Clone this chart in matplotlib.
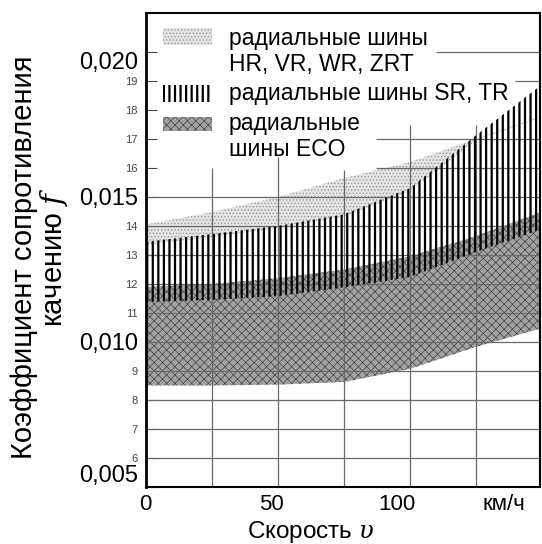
import matplotlib
matplotlib.use('Agg')
import matplotlib.pyplot as plt
from matplotlib.patches import Rectangle
from matplotlib.transforms import ScaledTranslation

plt.rcParams['font.family'] = ['Liberation Sans', 'DejaVu Sans']
plt.rcParams['mathtext.fontset'] = 'dejavuserif'

# ---------------- data ----------------
speed = [0, 25, 50, 75, 100, 125, 149]
eco_low = [0.00850, 0.00850, 0.00853, 0.00862, 0.00907, 0.00983, 0.01045]
eco_high = [0.01190, 0.01200, 0.01220, 0.01250, 0.01295, 0.01365, 0.01445]
sr_low = [0.01138, 0.01145, 0.01158, 0.01188, 0.01224, 0.01310, 0.01386]
sr_high = [0.01345, 0.01372, 0.01400, 0.01440, 0.01530, 0.01712, 0.01880]
hr_low = [0.01335, 0.01362, 0.01392, 0.01432, 0.01520, 0.01695, 0.01772]
hr_high = [0.01405, 0.01448, 0.01500, 0.01565, 0.01620, 0.01700, 0.01775]

legend_labels = ['радиальные шины\nHR, VR, WR, ZRT',
                 'радиальные шины SR, TR',
                 'радиальные\nшины ECO']

x_ticks = [0, 50, 100, 141.5]
x_tick_labels = ['0', '50', '100', 'км/ч']
y_major = [0.005, 0.010, 0.015, 0.020]
y_major_labels = ['0,005', '0,010', '0,015', '0,020']
y_minor = [0.006, 0.007, 0.008, 0.009, 0.011, 0.012, 0.013, 0.014,
           0.016, 0.017, 0.018, 0.019]
y_minor_labels = ['6', '7', '8', '9', '11', '12', '13', '14',
                  '16', '17', '18', '19']
x_label = 'Скорость $\\upsilon$'
y_label = 'Коэффициент сопротивления\nкачению $f$'

# ---------------- figure ----------------
W, H = 542, 544
fig = plt.figure(figsize=(W / 100, H / 100), dpi=100)
AX_L, AX_R, AX_T, AX_B = 146, 540, 13, 487
ax = fig.add_axes([AX_L / W, 1 - AX_B / H, (AX_R - AX_L) / W, (AX_B - AX_T) / H])
ax.set_xlim(0, 149.3)
ax.set_ylim(0.005, 0.02134)


def pax(px, py):
    """pixel -> axes fraction"""
    return (px - AX_L) / (AX_R - AX_L), (AX_B - py) / (AX_B - AX_T)


# style of the three bands
styles = [
    dict(facecolor='#e4e4e4', hatch='.....', edgecolor='#9a9a9a', lw=0, hlw=0.6),
    dict(facecolor='none', hatch='|||', edgecolor='black', lw=0, hlw=1.6),
    dict(facecolor='#a2a2a2', hatch='xxxx', edgecolor='#444444', lw=0, hlw=0.5),
]


def styled(artist, st):
    artist.set_facecolor(st['facecolor'])
    artist.set_hatch(st['hatch'])
    artist.set_edgecolor(st['edgecolor'])
    artist.set_linewidth(st['lw'])
    try:
        artist.set_hatch_linewidth(st['hlw'])
    except Exception:
        pass


# grid (partially hidden behind the legend area)
grid_kw = dict(color='#6a6a6a', lw=0.9, zorder=2.5)
for y in [0.006, 0.007, 0.008, 0.009, 0.010, 0.011, 0.012, 0.013, 0.014, 0.015]:
    ax.axhline(y, **grid_kw)
for y, x0 in [(0.016, 87), (0.017, 87), (0.019, 140), (0.020, 110)]:
    ax.hlines(y, x0, 149.3, **grid_kw)
for x, y1 in [(25, 0.0160), (50, 0.01638), (75, 0.01593), (100, 0.01748), (125, 0.01748)]:
    ax.vlines(x, 0.005, y1, **grid_kw)

# bands
plt.rcParams['hatch.linewidth'] = 0.5
eco = ax.fill_between(speed, eco_low, eco_high, zorder=2)
styled(eco, styles[2])
hr = ax.fill_between(speed, hr_low, hr_high, zorder=2)
styled(hr, styles[0])
plt.rcParams['hatch.linewidth'] = 1.6
sr = ax.fill_between(speed, sr_low, sr_high, zorder=3)
styled(sr, styles[1])

# legend (drawn by hand)
patch_rows = [(28, 45), (85, 102), (117, 131)]
first_baselines = [45, 100, 130]
for lab, st, (py0, py1), base in zip(legend_labels, styles, patch_rows, first_baselines):
    x0, y0 = pax(163, py1)
    x1, y1 = pax(212, py0)
    r = Rectangle((x0, y0), x1 - x0, y1 - y0, transform=ax.transAxes, zorder=4)
    styled(r, st)
    ax.add_patch(r)
    for j, line in enumerate(lab.split('\n')):
        tx, ty = pax(229, base + j * 25.5)
        ax.text(tx, ty, line, transform=ax.transAxes, fontsize=16.5,
                va='baseline', ha='left', zorder=5)

# axes ticks
ax.set_xticks(x_ticks)
ax.set_xticklabels(x_tick_labels, fontsize=16)
ax.tick_params(axis='x', length=0, pad=5)

ax.set_yticks(y_major)
ax.set_yticklabels(y_major_labels, fontsize=17)
ax.set_yticks(y_minor, minor=True)
ax.set_yticklabels(y_minor_labels, minor=True, fontsize=8, color='#444444')
ax.tick_params(axis='y', which='both', direction='in', length=8, width=0.8,
               color='#444444', pad=6)
ylabels = ax.get_yticklabels()
ylabels[0].set_va('bottom')
ylabels[-1].set_va('top')

shift = ScaledTranslation(4 / 72, 0, fig.dpi_scale_trans)
for lbl in ax.get_xticklabels():
    lbl.set_ha('right')
    lbl.set_transform(lbl.get_transform() + shift)

for side in ['left', 'bottom', 'top', 'right']:
    ax.spines[side].set_linewidth(2.0 if side == 'left' else 1.5)
    ax.spines[side].set_zorder(6)

fig.text(311 / W, 1 - 532 / H, x_label, fontsize=17.5, ha='center', va='center')
fig.text(40 / W, 1 - 257 / H, y_label, fontsize=21, ha='center', va='center',
         rotation=90, multialignment='center', linespacing=1.0)

fig.savefig('out.png', dpi=100)
